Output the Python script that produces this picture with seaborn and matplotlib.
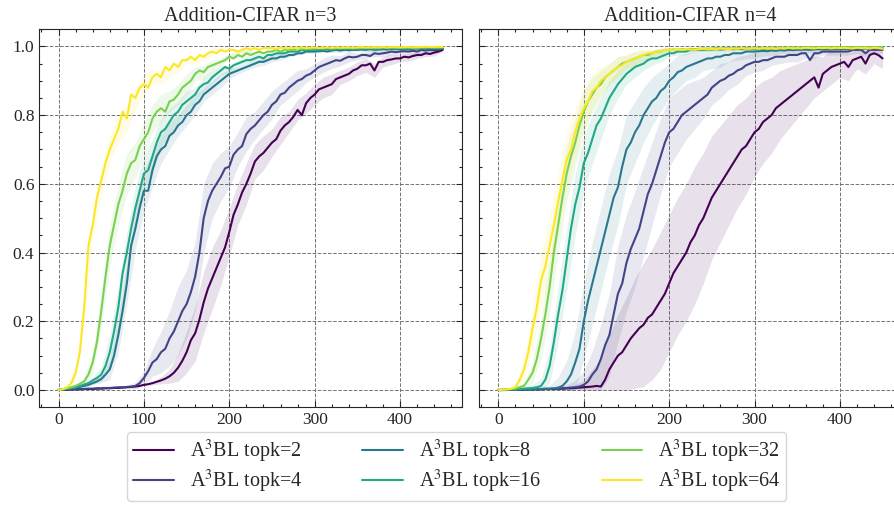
import numpy as np
import pandas as pd
import seaborn as sns
import matplotlib.pyplot as plt
from matplotlib.ticker import MultipleLocator

# training steps (every 5) and band steps (every 10)
steps = np.arange(0, 455, 5)
band_steps = steps[::2]
topks = [2, 4, 8, 16, 32, 64]

# ---- Addition-CIFAR n=3 : mean accuracy per topk ----
n3_topk2 = [0.000, 0.001, 0.001, 0.002, 0.002, 0.002, 0.003, 0.003, 0.003, 0.004,
            0.004, 0.005, 0.005, 0.006, 0.006, 0.007, 0.008, 0.009, 0.010, 0.012,
            0.015, 0.017, 0.020, 0.024, 0.028, 0.033, 0.040, 0.050, 0.065, 0.085,
            0.110, 0.145, 0.165, 0.205, 0.255, 0.295, 0.325, 0.355, 0.385, 0.415,
            0.460, 0.510, 0.540, 0.575, 0.600, 0.630, 0.665, 0.680, 0.690, 0.705,
            0.720, 0.730, 0.755, 0.770, 0.780, 0.795, 0.815, 0.800, 0.835, 0.850,
            0.860, 0.875, 0.880, 0.885, 0.890, 0.905, 0.910, 0.915, 0.920, 0.930,
            0.935, 0.945, 0.945, 0.950, 0.930, 0.955, 0.955, 0.960, 0.962, 0.965,
            0.965, 0.970, 0.968, 0.972, 0.975, 0.975, 0.980, 0.978, 0.982, 0.985,
            0.990]
n3_topk4 = [0.000, 0.001, 0.001, 0.002, 0.002, 0.003, 0.003, 0.004, 0.004, 0.005,
            0.005, 0.006, 0.006, 0.007, 0.008, 0.008, 0.009, 0.010, 0.012, 0.020,
            0.035, 0.055, 0.080, 0.090, 0.110, 0.120, 0.150, 0.170, 0.200, 0.230,
            0.250, 0.285, 0.330, 0.400, 0.500, 0.550, 0.580, 0.600, 0.620, 0.645,
            0.650, 0.685, 0.700, 0.710, 0.745, 0.760, 0.770, 0.785, 0.800, 0.810,
            0.830, 0.840, 0.860, 0.865, 0.880, 0.890, 0.900, 0.905, 0.915, 0.920,
            0.930, 0.940, 0.945, 0.950, 0.955, 0.960, 0.958, 0.965, 0.970, 0.968,
            0.970, 0.975, 0.975, 0.972, 0.980, 0.978, 0.980, 0.982, 0.985, 0.983,
            0.985, 0.986, 0.985, 0.987, 0.985, 0.990, 0.988, 0.990, 0.989, 0.990,
            0.995]
n3_topk8 = [0.000, 0.002, 0.003, 0.005, 0.007, 0.009, 0.012, 0.015, 0.020, 0.025,
            0.032, 0.045, 0.060, 0.100, 0.160, 0.230, 0.310, 0.420, 0.470, 0.530,
            0.580, 0.580, 0.640, 0.680, 0.700, 0.710, 0.740, 0.750, 0.770, 0.780,
            0.800, 0.810, 0.830, 0.840, 0.860, 0.870, 0.880, 0.890, 0.900, 0.910,
            0.920, 0.925, 0.930, 0.935, 0.940, 0.945, 0.950, 0.955, 0.955, 0.960,
            0.965, 0.965, 0.970, 0.970, 0.975, 0.975, 0.980, 0.980, 0.985, 0.985,
            0.985, 0.986, 0.987, 0.985, 0.988, 0.990, 0.988, 0.990, 0.989, 0.990,
            0.990, 0.991, 0.990, 0.992, 0.990, 0.991, 0.992, 0.991, 0.993, 0.992,
            0.992, 0.993, 0.992, 0.993, 0.994, 0.993, 0.994, 0.993, 0.994, 0.993,
            0.994]
n3_topk16 = [0.000, 0.002, 0.004, 0.006, 0.008, 0.012, 0.016, 0.020, 0.028, 0.035,
             0.045, 0.070, 0.110, 0.170, 0.240, 0.340, 0.400, 0.470, 0.530, 0.580,
             0.630, 0.640, 0.680, 0.720, 0.750, 0.760, 0.780, 0.800, 0.810, 0.830,
             0.840, 0.850, 0.860, 0.880, 0.890, 0.895, 0.910, 0.920, 0.930, 0.940,
             0.935, 0.945, 0.950, 0.955, 0.960, 0.960, 0.965, 0.970, 0.965, 0.975,
             0.975, 0.980, 0.980, 0.980, 0.985, 0.985, 0.985, 0.990, 0.988, 0.990,
             0.990, 0.991, 0.990, 0.992, 0.991, 0.992, 0.993, 0.992, 0.993, 0.992,
             0.993, 0.994, 0.993, 0.994, 0.993, 0.994, 0.995, 0.994, 0.995, 0.994,
             0.995, 0.995, 0.994, 0.995, 0.995, 0.996, 0.995, 0.995, 0.996, 0.995,
             0.996]
n3_topk32 = [0.000, 0.002, 0.005, 0.008, 0.012, 0.018, 0.025, 0.045, 0.080, 0.140,
             0.230, 0.330, 0.420, 0.480, 0.540, 0.580, 0.630, 0.660, 0.670, 0.710,
             0.730, 0.750, 0.790, 0.810, 0.820, 0.810, 0.840, 0.845, 0.860, 0.880,
             0.890, 0.900, 0.920, 0.930, 0.925, 0.940, 0.945, 0.950, 0.955, 0.960,
             0.970, 0.965, 0.975, 0.970, 0.980, 0.975, 0.980, 0.985, 0.980, 0.985,
             0.985, 0.990, 0.985, 0.990, 0.990, 0.990, 0.995, 0.992, 0.994, 0.993,
             0.994, 0.995, 0.994, 0.995, 0.994, 0.995, 0.996, 0.995, 0.996, 0.995,
             0.996, 0.995, 0.996, 0.996, 0.995, 0.996, 0.997, 0.996, 0.997, 0.996,
             0.997, 0.996, 0.997, 0.997, 0.996, 0.997, 0.997, 0.998, 0.997, 0.997,
             0.998]
n3_topk64 = [0.000, 0.003, 0.008, 0.020, 0.050, 0.110, 0.240, 0.420, 0.480, 0.560,
             0.610, 0.660, 0.700, 0.730, 0.760, 0.810, 0.790, 0.860, 0.850, 0.880,
             0.890, 0.880, 0.910, 0.920, 0.910, 0.940, 0.930, 0.950, 0.940, 0.960,
             0.960, 0.970, 0.960, 0.975, 0.970, 0.980, 0.985, 0.980, 0.990, 0.985,
             0.990, 0.990, 0.985, 0.990, 0.995, 0.990, 0.995, 0.990, 0.995, 0.995,
             0.995, 0.993, 0.996, 0.995, 0.994, 0.996, 0.995, 0.997, 0.995, 0.996,
             0.997, 0.995, 0.996, 0.997, 0.996, 0.997, 0.996, 0.997, 0.997, 0.996,
             0.997, 0.998, 0.997, 0.997, 0.998, 0.997, 0.998, 0.997, 0.998, 0.998,
             0.997, 0.998, 0.998, 0.997, 0.998, 0.998, 0.999, 0.998, 0.998, 0.999,
             0.998]

# ---- Addition-CIFAR n=4 : mean accuracy per topk ----
n4_topk2 = [0.000, 0.000, 0.000, 0.001, 0.001, 0.001, 0.001, 0.002, 0.002, 0.002,
            0.002, 0.003, 0.003, 0.003, 0.004, 0.004, 0.005, 0.005, 0.006, 0.007,
            0.008, 0.009, 0.010, 0.012, 0.010, 0.030, 0.060, 0.080, 0.100, 0.110,
            0.130, 0.150, 0.165, 0.180, 0.190, 0.210, 0.220, 0.240, 0.260, 0.280,
            0.310, 0.340, 0.360, 0.380, 0.400, 0.430, 0.450, 0.480, 0.500, 0.530,
            0.560, 0.580, 0.600, 0.620, 0.640, 0.660, 0.680, 0.700, 0.710, 0.730,
            0.750, 0.760, 0.780, 0.790, 0.800, 0.820, 0.830, 0.840, 0.850, 0.860,
            0.870, 0.880, 0.890, 0.900, 0.910, 0.880, 0.920, 0.930, 0.940, 0.945,
            0.950, 0.955, 0.940, 0.960, 0.965, 0.970, 0.950, 0.975, 0.980, 0.975,
            0.965]
n4_topk4 = [0.000, 0.000, 0.001, 0.001, 0.001, 0.001, 0.002, 0.002, 0.002, 0.002,
            0.003, 0.003, 0.003, 0.004, 0.004, 0.005, 0.006, 0.007, 0.008, 0.010,
            0.015, 0.025, 0.045, 0.060, 0.090, 0.130, 0.160, 0.220, 0.280, 0.310,
            0.370, 0.410, 0.440, 0.470, 0.520, 0.570, 0.600, 0.640, 0.680, 0.720,
            0.750, 0.760, 0.780, 0.800, 0.810, 0.820, 0.830, 0.840, 0.850, 0.860,
            0.880, 0.890, 0.900, 0.905, 0.915, 0.920, 0.930, 0.935, 0.945, 0.950,
            0.955, 0.955, 0.960, 0.960, 0.965, 0.970, 0.970, 0.970, 0.975, 0.975,
            0.975, 0.980, 0.980, 0.960, 0.980, 0.980, 0.985, 0.985, 0.985, 0.985,
            0.985, 0.985, 0.985, 0.990, 0.990, 0.990, 0.980, 0.990, 0.990, 0.990,
            0.990]
n4_topk8 = [0.000, 0.000, 0.001, 0.001, 0.001, 0.002, 0.002, 0.002, 0.003, 0.003,
            0.003, 0.004, 0.004, 0.005, 0.007, 0.012, 0.025, 0.045, 0.080, 0.120,
            0.200, 0.260, 0.310, 0.360, 0.410, 0.460, 0.510, 0.560, 0.590, 0.650,
            0.700, 0.720, 0.750, 0.770, 0.800, 0.820, 0.840, 0.850, 0.870, 0.880,
            0.900, 0.910, 0.925, 0.930, 0.940, 0.945, 0.950, 0.955, 0.960, 0.965,
            0.965, 0.970, 0.970, 0.975, 0.975, 0.980, 0.980, 0.980, 0.985, 0.985,
            0.985, 0.986, 0.987, 0.986, 0.988, 0.987, 0.989, 0.988, 0.990, 0.989,
            0.990, 0.990, 0.991, 0.990, 0.991, 0.992, 0.991, 0.992, 0.991, 0.993,
            0.992, 0.993, 0.992, 0.993, 0.994, 0.993, 0.994, 0.993, 0.994, 0.994,
            0.995]
n4_topk16 = [0.000, 0.001, 0.001, 0.002, 0.002, 0.003, 0.004, 0.005, 0.006, 0.008,
             0.012, 0.030, 0.070, 0.140, 0.220, 0.290, 0.380, 0.470, 0.540, 0.590,
             0.660, 0.690, 0.730, 0.770, 0.790, 0.820, 0.850, 0.870, 0.890, 0.905,
             0.920, 0.930, 0.940, 0.945, 0.950, 0.960, 0.965, 0.965, 0.970, 0.975,
             0.980, 0.980, 0.985, 0.985, 0.985, 0.990, 0.990, 0.990, 0.990, 0.990,
             0.991, 0.992, 0.991, 0.992, 0.993, 0.992, 0.993, 0.992, 0.993, 0.994,
             0.993, 0.994, 0.993, 0.994, 0.995, 0.994, 0.995, 0.994, 0.995, 0.995,
             0.994, 0.995, 0.996, 0.995, 0.995, 0.996, 0.995, 0.996, 0.996, 0.995,
             0.996, 0.996, 0.997, 0.996, 0.996, 0.997, 0.996, 0.997, 0.997, 0.996,
             0.997]
n4_topk32 = [0.000, 0.001, 0.002, 0.003, 0.005, 0.008, 0.012, 0.030, 0.050, 0.090,
             0.150, 0.220, 0.300, 0.400, 0.480, 0.560, 0.630, 0.680, 0.720, 0.770,
             0.810, 0.840, 0.860, 0.880, 0.890, 0.910, 0.920, 0.930, 0.940, 0.950,
             0.955, 0.960, 0.965, 0.970, 0.975, 0.975, 0.980, 0.985, 0.985, 0.990,
             0.990, 0.991, 0.990, 0.992, 0.991, 0.993, 0.992, 0.993, 0.994, 0.993,
             0.994, 0.995, 0.994, 0.995, 0.994, 0.995, 0.996, 0.995, 0.996, 0.995,
             0.996, 0.996, 0.995, 0.996, 0.997, 0.996, 0.997, 0.996, 0.997, 0.997,
             0.996, 0.997, 0.997, 0.998, 0.997, 0.997, 0.998, 0.997, 0.998, 0.997,
             0.998, 0.998, 0.997, 0.998, 0.998, 0.998, 0.997, 0.998, 0.998, 0.998,
             0.998]
n4_topk64 = [0.000, 0.001, 0.002, 0.004, 0.008, 0.030, 0.060, 0.110, 0.180, 0.240,
             0.320, 0.360, 0.420, 0.480, 0.550, 0.610, 0.670, 0.700, 0.750, 0.790,
             0.820, 0.840, 0.870, 0.880, 0.900, 0.910, 0.920, 0.930, 0.940, 0.945,
             0.955, 0.960, 0.965, 0.970, 0.975, 0.980, 0.980, 0.985, 0.985, 0.990,
             0.990, 0.989, 0.991, 0.990, 0.992, 0.991, 0.990, 0.992, 0.993, 0.991,
             0.993, 0.992, 0.994, 0.993, 0.992, 0.994, 0.993, 0.995, 0.993, 0.994,
             0.995, 0.993, 0.995, 0.994, 0.995, 0.993, 0.995, 0.994, 0.996, 0.994,
             0.995, 0.994, 0.996, 0.995, 0.994, 0.996, 0.995, 0.996, 0.994, 0.996,
             0.995, 0.996, 0.995, 0.994, 0.996, 0.995, 0.996, 0.994, 0.996, 0.995,
             0.993]

# ---- spread (half-width of shaded band) every 10 steps ----
n3_spread2 = [0, 0, 0, 0, 0, 0, 0, 0, 0, 0, 0.002, 0.005, 0.01, 0.02, 0.04, 0.06,
              0.08, 0.09, 0.09, 0.08, 0.07, 0.06, 0.06, 0.05, 0.05, 0.04, 0.04, 0.03,
              0.03, 0.03, 0.03, 0.03, 0.03, 0.02, 0.02, 0.02, 0.02, 0.02, 0.015, 0.015,
              0.01, 0.01, 0.01, 0.01, 0.01, 0.005]
n3_spread4 = [0, 0, 0, 0, 0, 0, 0, 0, 0.005, 0.01, 0.02, 0.04, 0.06, 0.08, 0.10, 0.10,
              0.10, 0.10, 0.08, 0.07, 0.06, 0.05, 0.05, 0.04, 0.04, 0.04, 0.03, 0.03,
              0.03, 0.02, 0.02, 0.02, 0.02, 0.015, 0.015, 0.01, 0.01, 0.01, 0.01, 0.01,
              0.01, 0.01, 0.01, 0.005, 0.005, 0.005]
n3_spread8 = [0, 0, 0, 0.005, 0.005, 0.01, 0.03, 0.05, 0.06, 0.06, 0.06, 0.05, 0.04,
              0.04, 0.03, 0.03, 0.03, 0.02, 0.02, 0.02, 0.015, 0.01, 0.01, 0.01, 0.01,
              0.01, 0.01, 0.005, 0.005, 0.005, 0.005, 0.005, 0.005, 0.005, 0.005, 0.005,
              0.005, 0.005, 0.005, 0.005, 0.005, 0.005, 0.005, 0.005, 0.005, 0.005]
n3_spread16 = [0, 0, 0.005, 0.005, 0.01, 0.02, 0.05, 0.06, 0.06, 0.06, 0.05, 0.05, 0.04,
               0.04, 0.03, 0.03, 0.02, 0.02, 0.02, 0.015, 0.01, 0.01, 0.01, 0.01, 0.01,
               0.005, 0.005, 0.005, 0.005, 0.005, 0.005, 0.005, 0.005, 0.005, 0.005, 0.005,
               0.005, 0.005, 0.005, 0.005, 0.005, 0.005, 0.005, 0.005, 0.005, 0.005]
n3_spread32 = [0, 0, 0.005, 0.01, 0.03, 0.05, 0.06, 0.06, 0.06, 0.05, 0.05, 0.04, 0.04,
               0.03, 0.03, 0.03, 0.02, 0.02, 0.015, 0.01, 0.01, 0.01, 0.01, 0.005, 0.005,
               0.005, 0.005, 0.005, 0.005, 0.005, 0.005, 0.005, 0.005, 0.005, 0.005, 0.005,
               0.005, 0.005, 0.005, 0.005, 0.005, 0.005, 0.005, 0.005, 0.005, 0.005]
n3_spread64 = [0, 0.005, 0.02, 0.04, 0.04, 0.04, 0.04, 0.04, 0.04, 0.03, 0.03, 0.02, 0.02,
               0.02, 0.015, 0.01, 0.01, 0.01, 0.01, 0.005, 0.005, 0.005, 0.005, 0.005,
               0.005, 0.005, 0.005, 0.005, 0.005, 0.005, 0.005, 0.005, 0.005, 0.005, 0.005,
               0.005, 0.005, 0.005, 0.005, 0.005, 0.005, 0.005, 0.005, 0.005, 0.005, 0.005]

n4_spread2 = [0, 0, 0, 0, 0, 0, 0, 0, 0.005, 0.01, 0.02, 0.05, 0.08, 0.10, 0.12, 0.14,
              0.16, 0.18, 0.19, 0.20, 0.20, 0.20, 0.20, 0.20, 0.19, 0.18, 0.17, 0.16,
              0.15, 0.14, 0.13, 0.12, 0.11, 0.10, 0.09, 0.08, 0.07, 0.06, 0.05, 0.05,
              0.04, 0.04, 0.03, 0.03, 0.03, 0.03]
n4_spread4 = [0, 0, 0, 0, 0, 0, 0, 0.005, 0.01, 0.02, 0.04, 0.07, 0.10, 0.12, 0.14, 0.14,
              0.14, 0.13, 0.12, 0.11, 0.10, 0.09, 0.08, 0.07, 0.06, 0.05, 0.05, 0.04,
              0.04, 0.03, 0.03, 0.03, 0.02, 0.02, 0.02, 0.02, 0.015, 0.015, 0.01, 0.01,
              0.01, 0.01, 0.01, 0.01, 0.01, 0.01]
n4_spread8 = [0, 0, 0, 0, 0, 0.005, 0.01, 0.03, 0.06, 0.09, 0.11, 0.12, 0.12, 0.12, 0.11,
              0.10, 0.09, 0.08, 0.07, 0.06, 0.05, 0.05, 0.04, 0.04, 0.03, 0.03, 0.03,
              0.02, 0.02, 0.02, 0.02, 0.015, 0.015, 0.01, 0.01, 0.01, 0.01, 0.01, 0.01,
              0.01, 0.005, 0.005, 0.005, 0.005, 0.005, 0.005]
n4_spread16 = [0, 0, 0, 0.005, 0.01, 0.02, 0.05, 0.08, 0.09, 0.09, 0.08, 0.07, 0.06, 0.05,
               0.04, 0.03, 0.03, 0.02, 0.02, 0.015, 0.01, 0.01, 0.01, 0.005, 0.005, 0.005,
               0.005, 0.005, 0.005, 0.005, 0.005, 0.005, 0.005, 0.005, 0.005, 0.005, 0.005,
               0.005, 0.005, 0.005, 0.005, 0.005, 0.005, 0.005, 0.005, 0.005]
n4_spread32 = [0, 0, 0.005, 0.01, 0.03, 0.06, 0.08, 0.08, 0.08, 0.07, 0.06, 0.05, 0.04,
               0.03, 0.03, 0.02, 0.02, 0.015, 0.01, 0.01, 0.005, 0.005, 0.005, 0.005,
               0.005, 0.005, 0.005, 0.005, 0.005, 0.005, 0.005, 0.005, 0.005, 0.005, 0.005,
               0.005, 0.005, 0.005, 0.005, 0.005, 0.005, 0.005, 0.005, 0.005, 0.005, 0.005]
n4_spread64 = [0, 0, 0.01, 0.03, 0.06, 0.08, 0.09, 0.09, 0.08, 0.07, 0.06, 0.05, 0.04,
               0.03, 0.03, 0.02, 0.02, 0.015, 0.01, 0.01, 0.005, 0.005, 0.005, 0.005,
               0.005, 0.005, 0.005, 0.005, 0.005, 0.005, 0.005, 0.005, 0.005, 0.005, 0.005,
               0.005, 0.005, 0.005, 0.005, 0.005, 0.005, 0.005, 0.005, 0.005, 0.005, 0.005]

panels = {
    'Addition-CIFAR n=3': ([n3_topk2, n3_topk4, n3_topk8, n3_topk16, n3_topk32, n3_topk64],
                           [n3_spread2, n3_spread4, n3_spread8, n3_spread16, n3_spread32, n3_spread64]),
    'Addition-CIFAR n=4': ([n4_topk2, n4_topk4, n4_topk8, n4_topk16, n4_topk32, n4_topk64],
                           [n4_spread2, n4_spread4, n4_spread8, n4_spread16, n4_spread32, n4_spread64]),
}

sns.set_style("ticks")
plt.rcParams['font.family'] = ['Liberation Serif', 'DejaVu Serif']
plt.rcParams['mathtext.fontset'] = 'stix'

# viridis sampled over its full range, endpoints included
colors = [tuple(c) for c in plt.cm.viridis(np.linspace(0, 1, len(topks)))]
labels = [f'A$^3$BL topk={k}' for k in topks]

fig = plt.figure(figsize=(8.94, 5.09), dpi=100)
ax1 = fig.add_axes([0.044, 0.2, 0.4727, 0.7426])
ax2 = fig.add_axes([0.536, 0.2, 0.4727, 0.7426], sharey=ax1)

for ax, (title, (means, spreads)) in zip([ax1, ax2], panels.items()):
    rows = []
    for k, m in zip(topks, means):
        rows.append(pd.DataFrame({'step': steps, 'acc': m, 'topk': k}))
    df = pd.concat(rows, ignore_index=True)

    for c, m, s in zip(colors, means, spreads):
        m_b = np.array(m)[::2]
        s_b = np.array(s)
        ax.fill_between(band_steps, np.clip(m_b - s_b, 0, 1), np.clip(m_b + s_b, 0, 1),
                        color=c, alpha=0.12, lw=0)

    sns.lineplot(data=df, x='step', y='acc', hue='topk', palette=colors,
                 errorbar=None, legend=False, lw=1.5, ax=ax)

    ax.set_title(title, fontsize=14.5)
    ax.set_xlabel('')
    ax.set_ylabel('')
    ax.xaxis.set_major_locator(MultipleLocator(100))
    ax.xaxis.set_minor_locator(MultipleLocator(20))
    ax.yaxis.set_major_locator(MultipleLocator(0.2))
    ax.yaxis.set_minor_locator(MultipleLocator(0.05))
    ax.tick_params(which='both', direction='in', top=True, right=True, labelsize=12.5, width=0.8)
    ax.tick_params(which='major', length=4)
    ax.tick_params(which='minor', length=2)
    ax.grid(True, which='major', linestyle='--', color='0.45', lw=0.7)
    for sp in ax.spines.values():
        sp.set_linewidth(0.8)
        sp.set_color('0.15')

ax1.set_xlim(-22.5, 472.5)
ax2.set_xlim(-22.5, 472.5)
ax1.set_ylim(-0.05, 1.05)
ax2.tick_params(labelleft=False)

handles = [plt.Line2D([], [], color=c, lw=1.5) for c in colors]
fig.legend(handles, labels, loc='lower center', bbox_to_anchor=(0.511, -0.004),
           ncol=3, fontsize=14.5, frameon=True, fancybox=True, edgecolor='0.8',
           columnspacing=3.0, handlelength=2.0, labelspacing=0.15, borderpad=0.3)

fig.savefig('out.png', dpi=100)
